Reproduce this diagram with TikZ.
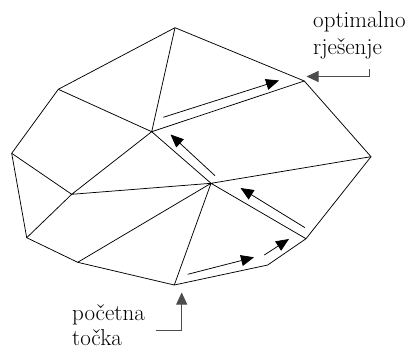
\documentclass[tikz,border=0pt]{standalone}
\usepackage{fontspec}
\usetikzlibrary{arrows.meta}
\begin{document}
\begin{tikzpicture}[x=1pt,y=-1pt,
  edge/.style={line width=0.75pt, line join=round},
  move/.style={line width=0.75pt, -{Triangle[length=13pt,width=11pt]}},
  callout/.style={line width=0.9pt, draw=black!70, -{Triangle[length=12pt,width=11pt]}},
  lbl/.style={anchor=base west, inner sep=0pt, font=\fontsize{23}{26}\selectfont}]
\useasboundingbox (0,0) rectangle (414,351);
% vertices
\coordinate (T) at (175,27.7);
\coordinate (TR) at (304.3,81);
\coordinate (R) at (371,156.7);
\coordinate (BR2) at (306,238.7);
\coordinate (BR1) at (267.7,265);
\coordinate (B) at (174.3,285);
\coordinate (BL) at (77.7,262.3);
\coordinate (LL) at (26.7,237.7);
\coordinate (L) at (11.7,153.3);
\coordinate (UL) at (58.3,89.3);
\coordinate (C1) at (151.7,131.7);
\coordinate (C2) at (211,183.3);
\coordinate (C3) at (71.7,194.3);
% polytope
\draw[edge] (T) -- (TR) -- (R) -- (BR2) -- (BR1) -- (B) -- (BL) -- (LL) -- (L) -- (UL) -- cycle;
\draw[edge] (T) -- (C1) (UL) -- (C1) (C1) -- (TR) (C1) -- (C2) (C1) -- (C3)
  (L) -- (C3) (C3) -- (LL) (C3) -- (C2) (C2) -- (R) (C2) -- (BL) (C2) -- (B) (C2) -- (BR2);
% path of the method
\coordinate (a1s) at (187.7,274.3); \coordinate (a1e) at (254,257.3);
\coordinate (a2s) at (264.3,255);   \coordinate (a2e) at (289,239);
\coordinate (a3s) at (305,227.7);   \coordinate (a3e) at (240.5,188);
\coordinate (a4s) at (215,175.7);   \coordinate (a4e) at (170.5,134.5);
\coordinate (a5s) at (163.3,117.3); \coordinate (a5e) at (279,80.5);
\draw[move] (a1s) -- (a1e);
\draw[move] (a2s) -- (a2e);
\draw[move] (a3s) -- (a3e);
\draw[move] (a4s) -- (a4e);
\draw[move] (a5s) -- (a5e);
% labels
\node[lbl] (opt1) at (313,27.3) {optimalno};
\node[lbl] (opt2) at (313,54.5) {rješenje};
\node[lbl] (st1) at (72,320.7) {početna};
\node[lbl] (st2) at (72,345.5) {točka};
\coordinate (o1) at (369,69);
\coordinate (o2) at (369,76.5);
\coordinate (o3) at (306.5,76.5);
\draw[callout] (o1) -- (o2) -- (o3);
\coordinate (s1) at (155.7,330.7);
\coordinate (s2) at (181.7,330.7);
\coordinate (s3) at (181.7,292.5);
\draw[callout] (s1) -- (s2) -- (s3);
\end{tikzpicture}
\end{document}
